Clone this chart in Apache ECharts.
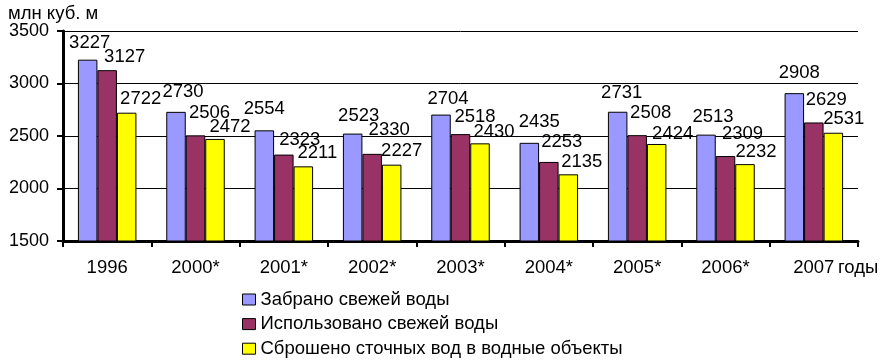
<!DOCTYPE html>
<html>
<head>
<meta charset="utf-8">
<script src="https://cdn.jsdelivr.net/npm/echarts@6/dist/echarts.min.js"></script>
<style>
html,body{margin:0;padding:0;background:#fff;}
#chart{width:887px;height:364px;}
</style>
</head>
<body>
<div id="chart"></div>
<script>
var categories = ['1996', '2000*', '2001*', '2002*', '2003*', '2004*', '2005*', '2006*', '2007'];
var seriesNames = ['Забрано свежей воды', 'Использовано свежей воды', 'Сброшено сточных вод в водные объекты'];
var withdrawn = [3227, 2730, 2554, 2523, 2704, 2435, 2731, 2513, 2908];
var used = [3127, 2506, 2323, 2330, 2518, 2253, 2508, 2309, 2629];
var discharged = [2722, 2472, 2211, 2227, 2430, 2135, 2424, 2232, 2531];
var yTicks = [1500, 2000, 2500, 3000, 3500];
var yName = 'млн куб. м';
var xName = 'годы';

// label nudges (style only): manual label placement as in the original
var labelNudge = [
  [[2,-8],[7,-11],[0,-12],[6,-9],[7,-7],[10,-11.5],[4,-9.5],[7,-9],[5,-11]],
  [[17.5,-4],[14,-13],[16,-6],[17,-14.5],[14.5,-8.5],[13,-11],[13.5,-13],[17,-13],[12.5,-14]],
  [[14,-5],[15,-3.5],[14,-4],[10,-4.5],[14,-2.5],[13.5,-3],[16,-1.5],[11,-3],[10.5,-5]]
];

var FONT = '"Liberation Sans", Arial, sans-serif';
var colors = ['#9999FF', '#993366', '#FFFF00'];

var chart = echarts.init(document.getElementById('chart'), null, {renderer: 'canvas'});

function mkSeries(idx, values) {
  return {
    name: seriesNames[idx],
    type: 'bar',
    data: values.map(function (v, i) {
      return {value: v, label: {offset: labelNudge[idx][i]}};
    }),
    barWidth: 19.5,
    barGap: '0%',
    itemStyle: {color: colors[idx], borderColor: '#000', borderWidth: 1},
    label: {
      show: true,
      position: 'top',
      distance: 0,
      color: '#000',
      fontFamily: FONT,
      fontSize: 18.5,
      lineHeight: 18
    },
    emphasis: {disabled: true},
    animation: false
  };
}

chart.setOption({
  backgroundColor: '#fff',
  animation: false,
  grid: {left: 63, right: 29, top: 31, bottom: 123, containLabel: false},
  legend: {
    orient: 'vertical',
    left: 242,
    top: 290,
    padding: 0,
    height: 74,
    itemWidth: 13,
    itemHeight: 11,
    itemGap: 5.6,
    icon: 'rect',
    textStyle: {color: '#000', fontFamily: FONT, fontSize: 18.5, lineHeight: 19},
    itemStyle: {borderColor: '#000', borderWidth: 1},
    data: seriesNames
  },
  xAxis: {
    type: 'category',
    data: categories,
    axisLine: {lineStyle: {color: '#000', width: 3}},
    axisTick: {show: true, alignWithLabel: false, length: 6, lineStyle: {color: '#000', width: 2}},
    axisLabel: {color: '#000', fontFamily: FONT, fontSize: 18.5, margin: 17}
  },
  yAxis: {
    type: 'value',
    min: yTicks[0],
    max: yTicks[yTicks.length - 1],
    interval: 500,
    axisLine: {show: true, lineStyle: {color: '#000', width: 3}},
    axisTick: {show: true, length: 6, lineStyle: {color: '#000', width: 2}},
    axisLabel: {color: '#000', fontFamily: FONT, fontSize: 18, margin: 14, formatter: function (v) { return String(v); }},
    splitLine: {show: true, lineStyle: {color: '#000', width: 1}}
  },
  graphic: [
    {type: 'text', left: 8, top: 4, style: {text: yName, fill: '#000', font: '18.5px ' + FONT}},
    {type: 'text', left: 838, top: 258, style: {text: xName, fill: '#000', font: '18.5px ' + FONT}}
  ],
  series: [mkSeries(0, withdrawn), mkSeries(1, used), mkSeries(2, discharged)]
});
</script>
</body>
</html>
